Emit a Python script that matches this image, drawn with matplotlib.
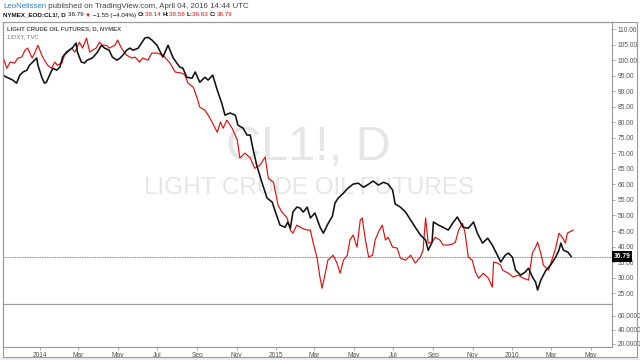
import matplotlib
matplotlib.use("Agg")
import matplotlib.pyplot as plt
import matplotlib.dates as mdates
from matplotlib.patches import Rectangle
import pandas as pd

plt.rcParams['font.family'] = ['Liberation Sans', 'DejaVu Sans']

# CL1! daily close
cl_dates = ['2013-11-05', '2013-11-11', '2013-11-20', '2013-11-26', '2013-12-01', '2013-12-06',
            '2013-12-12', '2013-12-16', '2013-12-21', '2013-12-27', '2013-12-29', '2014-01-04',
            '2014-01-08', '2014-01-11', '2014-01-16', '2014-01-21', '2014-01-27', '2014-02-01',
            '2014-02-05', '2014-02-11', '2014-02-15', '2014-02-20', '2014-02-26', '2014-02-28',
            '2014-03-06', '2014-03-11', '2014-03-15', '2014-03-23', '2014-03-31', '2014-04-06',
            '2014-04-11', '2014-04-18', '2014-04-23', '2014-04-30', '2014-05-05', '2014-05-09',
            '2014-05-15', '2014-05-20', '2014-05-25', '2014-06-02', '2014-06-08', '2014-06-12',
            '2014-06-17', '2014-06-23', '2014-07-01', '2014-07-10', '2014-07-18', '2014-07-26',
            '2014-08-05', '2014-08-10', '2014-08-16', '2014-08-24', '2014-08-29', '2014-09-05',
            '2014-09-13', '2014-09-18', '2014-09-25', '2014-10-02', '2014-10-09', '2014-10-14',
            '2014-10-22', '2014-10-30', '2014-11-03', '2014-11-11', '2014-11-17', '2014-11-22',
            '2014-11-26', '2014-12-02', '2014-12-10', '2014-12-18', '2014-12-26', '2014-12-30',
            '2015-01-07', '2015-01-15', '2015-01-19', '2015-01-23', '2015-01-27', '2015-02-02',
            '2015-02-07', '2015-02-12', '2015-02-18', '2015-02-23', '2015-03-02', '2015-03-10',
            '2015-03-15', '2015-03-21', '2015-03-29', '2015-04-02', '2015-04-07', '2015-04-15',
            '2015-04-22', '2015-04-30', '2015-05-08', '2015-05-16', '2015-05-24', '2015-05-31',
            '2015-06-08', '2015-06-16', '2015-06-23', '2015-06-30', '2015-07-04', '2015-07-12',
            '2015-07-20', '2015-07-28', '2015-08-04', '2015-08-12', '2015-08-20', '2015-08-24',
            '2015-08-30', '2015-09-01', '2015-09-09', '2015-09-16', '2015-09-24', '2015-10-02',
            '2015-10-08', '2015-10-17', '2015-10-25', '2015-11-02', '2015-11-08', '2015-11-16',
            '2015-11-24', '2015-12-01', '2015-12-09', '2015-12-14', '2015-12-21', '2015-12-26',
            '2016-01-01', '2016-01-06', '2016-01-14', '2016-01-21', '2016-01-26', '2016-02-01',
            '2016-02-06', '2016-02-09', '2016-02-14', '2016-02-22', '2016-02-29', '2016-03-08',
            '2016-03-13', '2016-03-16', '2016-03-20', '2016-03-27', '2016-04-01']
cl_close = [95.2, 94.5, 93.6, 92.6, 95.2, 96.2, 96.8, 98.4, 99.4, 100.7, 98.4, 94.5,
            92.6, 92.9, 95.2, 97.4, 96.8, 97.8, 101.0, 102.6, 103.2, 103.9, 105.5, 102.6,
            99.4, 99.1, 100.0, 100.7, 102.6, 104.8, 103.9, 103.2, 101.0, 100.0, 100.7, 101.6,
            103.2, 103.9, 103.2, 103.9, 105.8, 107.1, 107.4, 106.5, 104.8, 101.0, 104.8, 100.7,
            97.8, 97.4, 94.5, 94.2, 96.2, 92.9, 94.5, 93.6, 95.2, 90.4, 86.2, 82.3,
            83.0, 82.3, 79.1, 78.1, 75.9, 75.9, 71.7, 66.2, 60.7, 55.6, 54.3, 51.7,
            46.9, 46.2, 47.9, 45.9, 51.1, 52.7, 52.4, 51.1, 52.7, 49.2, 50.8, 46.2,
            44.3, 46.9, 49.8, 54.0, 55.6, 57.2, 58.8, 60.1, 60.4, 59.1, 60.1, 61.1,
            59.8, 60.7, 60.1, 58.2, 53.7, 52.7, 51.1, 48.5, 46.2, 43.7, 42.1, 38.8,
            41.4, 47.9, 46.9, 46.2, 45.3, 47.9, 49.5, 46.2, 45.9, 47.9, 44.3, 41.1,
            42.7, 40.5, 37.2, 35.0, 37.2, 37.9, 36.6, 32.4, 30.8, 31.8, 33.0, 30.2,
            28.5, 26.0, 29.2, 32.4, 34.0, 36.6, 38.8, 41.1, 38.8, 38.2, 36.79]

# 1/DXY overlay, in price-axis units
dxy_dates = ['2013-11-05', '2013-11-11', '2013-11-16', '2013-11-23', '2013-11-28', '2013-12-04',
             '2013-12-09', '2013-12-13', '2013-12-20', '2013-12-24', '2013-12-29', '2014-01-04',
             '2014-01-08', '2014-01-13', '2014-01-19', '2014-01-24', '2014-01-28', '2014-02-04',
             '2014-02-08', '2014-02-13', '2014-02-19', '2014-02-24', '2014-03-03', '2014-03-08',
             '2014-03-14', '2014-03-19', '2014-03-23', '2014-03-29', '2014-04-03', '2014-04-08',
             '2014-04-14', '2014-04-18', '2014-04-27', '2014-05-01', '2014-05-07', '2014-05-15',
             '2014-05-23', '2014-05-28', '2014-06-04', '2014-06-09', '2014-06-17', '2014-06-23',
             '2014-07-01', '2014-07-10', '2014-07-21', '2014-07-29', '2014-08-09', '2014-08-13',
             '2014-08-18', '2014-08-26', '2014-09-01', '2014-09-05', '2014-09-13', '2014-09-18',
             '2014-09-24', '2014-10-02', '2014-10-07', '2014-10-11', '2014-10-17', '2014-10-25',
             '2014-11-02', '2014-11-06', '2014-11-14', '2014-11-22', '2014-11-29', '2014-12-07',
             '2014-12-15', '2014-12-20', '2014-12-28', '2015-01-04', '2015-01-10', '2015-01-18',
             '2015-01-23', '2015-01-27', '2015-02-02', '2015-02-10', '2015-02-18', '2015-02-23',
             '2015-02-27', '2015-03-05', '2015-03-10', '2015-03-13', '2015-03-18', '2015-03-22',
             '2015-03-30', '2015-04-05', '2015-04-10', '2015-04-15', '2015-04-21', '2015-04-25',
             '2015-04-30', '2015-05-06', '2015-05-11', '2015-05-14', '2015-05-19', '2015-05-24',
             '2015-05-30', '2015-06-03', '2015-06-08', '2015-06-14', '2015-06-19', '2015-06-23',
             '2015-06-30', '2015-07-07', '2015-07-12', '2015-07-20', '2015-07-28', '2015-08-04',
             '2015-08-12', '2015-08-16', '2015-08-20', '2015-08-24', '2015-08-30', '2015-09-04',
             '2015-09-11', '2015-09-16', '2015-09-24', '2015-09-30', '2015-10-05', '2015-10-10',
             '2015-10-16', '2015-10-20', '2015-10-25', '2015-10-31', '2015-11-05', '2015-11-10',
             '2015-11-17', '2015-11-25', '2015-12-01', '2015-12-03', '2015-12-09', '2015-12-14',
             '2015-12-17', '2015-12-26', '2016-01-02', '2016-01-10', '2016-01-18', '2016-01-26',
             '2016-02-01', '2016-02-06', '2016-02-09', '2016-02-14', '2016-02-18', '2016-02-26',
             '2016-03-03', '2016-03-08', '2016-03-13', '2016-03-19', '2016-03-23', '2016-03-26',
             '2016-04-04']
dxy_inv = [101.0, 97.4, 99.4, 99.1, 100.7, 101.0, 103.2, 103.9, 100.7, 102.3, 104.8, 101.6,
           100.0, 98.4, 97.4, 99.4, 98.4, 99.1, 101.6, 102.6, 103.9, 102.6, 105.8, 103.9,
           107.1, 102.6, 103.2, 103.9, 105.8, 104.8, 104.8, 103.9, 104.8, 106.5, 103.9, 101.6,
           100.7, 101.0, 99.4, 100.7, 100.0, 102.3, 102.3, 101.6, 99.1, 96.2, 95.8, 95.2,
           92.6, 91.3, 87.8, 84.9, 83.9, 82.3, 80.1, 76.8, 80.1, 78.1, 80.7, 78.1,
           74.3, 68.5, 70.1, 68.5, 65.2, 66.2, 68.8, 62.0, 60.7, 53.3, 51.1, 49.2,
           45.3, 44.3, 46.9, 45.9, 45.3, 45.3, 41.4, 36.6, 29.8, 26.6, 31.4, 35.6,
           37.2, 34.7, 31.4, 35.6, 37.2, 42.1, 43.7, 39.8, 48.5, 49.2, 42.1, 36.6,
           37.2, 42.1, 44.6, 46.9, 42.1, 43.0, 39.8, 39.5, 36.3, 35.6, 37.2, 34.7,
           36.6, 38.8, 49.2, 41.1, 41.4, 43.0, 42.1, 40.5, 40.5, 40.8, 41.4, 45.3,
           47.5, 44.3, 36.6, 35.6, 31.8, 29.8, 31.4, 29.8, 26.9, 35.0, 34.7, 34.0,
           32.4, 31.4, 30.2, 30.8, 29.8, 29.2, 37.9, 39.8, 41.4, 37.9, 34.0, 32.4,
           36.3, 39.5, 44.3, 42.7, 41.1, 44.3, 45.3]

last_price = 36.79
price_ticks = [25, 30, 35, 40, 45, 50, 55, 60, 65, 70, 75, 80, 85, 90, 95, 100, 105, 110]
lower_ticks = [20, 40, 60]

cl_x = pd.to_datetime(cl_dates)
dxy_x = pd.to_datetime(dxy_dates)

fig = plt.figure(figsize=(6.4, 3.6), dpi=100)
W, H = 640, 360

# outer frame + grey strip at the bottom
fig.patches.append(Rectangle((0, 0), 1, 3 / H, transform=fig.transFigure,
                             facecolor='#e9edf1', edgecolor='none'))
fig.patches.append(Rectangle((3 / W, 3 / H), 634 / W, 335 / H, transform=fig.transFigure,
                             facecolor='none', edgecolor='#9a9a9a', lw=0.8))

ax = fig.add_axes([3 / W, 56 / H, 609 / W, 282 / H])
ax2 = fig.add_axes([3 / W, 13 / H, 609 / W, 43 / H], sharex=ax)

# watermark
ax.text(0.502, 0.555, 'CL1!, D', transform=ax.transAxes, ha='center', va='center',
        fontsize=35, color='#e6e6e6', zorder=0)
ax.text(0.503, 0.41, 'LIGHT CRUDE OIL FUTURES', transform=ax.transAxes, ha='center',
        va='center', fontsize=17.5, color='#e6e6e6', zorder=0)

ax.plot(dxy_x, dxy_inv, color='#e01010', lw=0.85, zorder=3)
ax.plot(cl_x, cl_close, color='#111111', lw=1.15, zorder=4)
ax.axhline(last_price, color='#555555', lw=0.6, ls=(0, (1, 1)), zorder=2)

xmin, xmax = pd.Timestamp('2013-11-05'), pd.Timestamp('2016-06-03')
ax.set_xlim(xmin, xmax)
ax.set_ylim(21.5, 112.3)
ax2.set_ylim(15.7, 77)

for a in (ax, ax2):
    for s in a.spines.values():
        s.set_color('#9a9a9a')
        s.set_linewidth(0.8)
    a.yaxis.tick_right()
    a.tick_params(axis='y', length=2, width=0.6, color='#9a9a9a', labelsize=4.8,
                  labelcolor='#555555', pad=2)

ax.set_yticks(price_ticks)
ax.set_yticklabels(['%.2f' % v for v in price_ticks])
ax2.set_yticks(lower_ticks)
ax2.set_yticklabels(['%.4f' % v for v in lower_ticks])
ax.tick_params(axis='x', which='both', bottom=False, labelbottom=False)

ax2.xaxis.set_major_locator(mdates.MonthLocator(bymonth=[1, 3, 5, 7, 9, 11]))
ax2.xaxis.set_major_formatter(plt.FuncFormatter(
    lambda v, p: mdates.num2date(v).strftime('%Y' if mdates.num2date(v).month == 1 else '%b')))
ax2.tick_params(axis='x', length=2, width=0.6, color='#9a9a9a', labelsize=4.8,
                labelcolor='#555555', pad=1.5)

# last price tag
ax.text(1.003, last_price, '36.79', transform=ax.get_yaxis_transform(), ha='left', va='center',
        fontsize=4.8, color='white', fontweight='bold', clip_on=False,
        bbox=dict(boxstyle='square,pad=0.25', facecolor='black', edgecolor='none'))

# legend text in the top-left corner of the panel
fig.text(7 / W, 1 - 29 / H, 'LIGHT CRUDE OIL FUTURES, D, NYMEX',
         fontsize=4.3, color='#555555', fontweight='bold', va='center')
fig.text(7 / W, 1 - 37 / H, '1/DXY, TVC', fontsize=4.3, color='#777777', va='center')

# header lines, drawn piece by piece
renderer = fig.canvas.get_renderer()


def line(y, size, pieces):
    x = 3 / W
    for txt, col, wt in pieces:
        t = fig.text(x, 1 - y / H, txt, fontsize=size, color=col, fontweight=wt, va='center')
        bb = t.get_window_extent(renderer)
        x += bb.width / W


line(6, 5.65, [('LeoNelissen', '#2a7fd4', 'normal'),
               (' published on TradingView.com, April 04, 2016 14:44 UTC', '#444444', 'normal')])
line(15, 4.5, [('NYMEX_EOD:CL1!, D ', '#111111', 'bold'),
               ('36.79 ', '#111111', 'normal'),
               ('\u25bc', '#d01010', 'normal'),
               (' \u22121.55 (\u22124.04%) ', '#111111', 'normal'),
               ('O:', '#111111', 'bold'), ('38.14 ', '#d01010', 'normal'),
               ('H:', '#111111', 'bold'), ('38.56 ', '#d01010', 'normal'),
               ('L:', '#111111', 'bold'), ('36.63 ', '#d01010', 'normal'),
               ('C:', '#111111', 'bold'), ('36.79', '#d01010', 'normal')])

fig.savefig('out.png', dpi=100, facecolor='white')
